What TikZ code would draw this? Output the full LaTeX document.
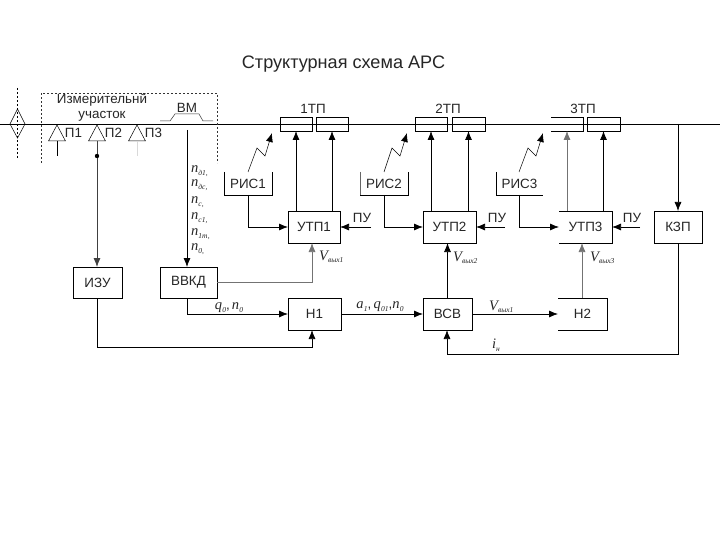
\documentclass[tikz,border=0pt]{standalone}
\usepackage{fontspec}
\setmainfont{Liberation Sans}
\newfontfamily\symfont{Liberation Serif}
\usetikzlibrary{arrows.meta}
\newcommand{\vv}[2]{{\symfont\itshape\fontsize{14.5}{14}\selectfont #1\kern0.2pt\raisebox{-2.5pt}{\fontsize{7.5}{7}\selectfont #2}}}
\tikzset{
 x=1pt,y=-1pt,
 every node/.style={font=\fontsize{13.4}{14}\selectfont,inner sep=0pt,outer sep=0pt,text=black!85},
 wire/.style={draw=black,line width=0.75pt},
 flow/.style={wire,-{Latex[length=9pt,width=7pt]}},
 paleflow/.style={flow,draw=black!55},
 blk/.style={draw=black,line width=0.75pt,minimum height=32pt,anchor=north west},
 openblk/.style={minimum height=32pt,anchor=north west},
 tp/.style={draw=black,line width=0.75pt,minimum width=32pt,minimum height=14pt,anchor=north west},
 lbl/.style={anchor=center},
}
\begin{document}
\begin{tikzpicture}
\useasboundingbox (0,0) rectangle (720,540);
\fill[white] (0,0) rectangle (720,540);
\node[font=\fontsize{18.1}{20}\selectfont] (title) at (343.5,64) {Структурная схема АРС};
% track
\coordinate (railL) at (0,124);
\coordinate (railR) at (720,124);
\draw[wire] (railL) -- (railR);
% diamond
\coordinate (dtop) at (17.5,88);
\coordinate (dbot) at (17.5,159);
\draw[black,line width=0.4pt,dash pattern=on 2pt off 2pt] (dtop) -- (dbot);
\draw[black,line width=0.5pt] (17.5,109) -- (25,124) -- (17.5,138) -- (10,124) -- cycle;
% measuring section
\draw[black!80,line width=0.5pt,dash pattern=on 2pt off 2pt] (41,163) -- (41,93) -- (217,93) -- (217,163);
\node[lbl] (meas1) at (102,100) {Измерительнй};
\node[lbl] (meas2) at (102,116) {участок};
\node[lbl] (vm) at (187,108) {ВМ};
\draw[black!80,line width=0.5pt] (160,121) -- (170,121) -- (175,114) -- (199,114) -- (203,121) -- (213,121);
% sensors
\foreach \n/\x in {1/57,2/97,3/137}{
  \coordinate (p\n) at (\x,141);
  \draw[black,line width=0.5pt] (\x,125) -- (\x+8.5,141) -- (\x-8.5,141) -- cycle;
  \node[lbl] (pl\n) at (\x+16.5,132.5) {П\n};
}
\coordinate (p1e) at (57,156);
\coordinate (p3e) at (137,156);
\coordinate (pdot) at (97,156);
\draw[wire] (p1) -- (p1e);
\draw[draw=black!15,line width=0.7pt] (p3) -- (p3e);
% blocks
\node[blk,minimum width=52pt] (utp1) at (288,211) {УТП1};
\node[blk,minimum width=53pt] (utp2) at (423,211) {УТП2};
\node[openblk,minimum width=53pt] (utp3) at (559,211) {УТП3};
\draw[black,line width=0.75pt] (559,211) -- (612,211) -- (612,243) -- (559,243);
\node[blk,minimum width=48pt] (kzp) at (654,211) {КЗП};
\node[blk,minimum width=49pt,minimum height=31pt] (izu) at (73,267) {ИЗУ};
\node[blk,minimum width=57pt,minimum height=31pt] (vvkd) at (160,267) {ВВКД};
\node[blk,minimum width=53pt] (n1) at (288,298) {Н1};
\node[blk,minimum width=49pt] (vsv) at (423,298) {ВСВ};
\node[openblk,minimum width=49pt] (n2) at (558,298) {Н2};
\draw[black,line width=0.75pt] (558,298) -- (607,298) -- (607,330) -- (558,330);
% radio units (open top)
\node[minimum width=48pt,minimum height=23pt,anchor=north west] (ris1) at (224,172) {РИС1};
\node[minimum width=48pt,minimum height=23pt,anchor=north west] (ris2) at (360,172) {РИС2};
\node[minimum width=47pt,minimum height=23pt,anchor=north west] (ris3) at (496,172) {РИС3};
\draw[wire] (ris1.north west) -- (ris1.south west) -- (ris1.south east) -- (ris1.north east);
\draw[draw=black!60,line width=0.7pt] (ris2.north west) -- (ris2.south west);
\draw[wire] (ris2.south west) -- (ris2.south east) -- (ris2.north east);
\draw[wire] (ris3.north west) -- (ris3.south west) -- (ris3.south east);
% traction units
\node[tp] (t1a) at (280,117) {};
\node[tp] (t1b) at (316,117) {};
\node[tp] (t2a) at (415,117) {};
\node[tp,minimum width=33pt] (t2b) at (452,117) {};
\node[minimum width=32pt,minimum height=14pt,anchor=north west] (t3a) at (551,117) {};
\draw[black,line width=0.75pt] (551,117) -- (583,117) -- (583,131) -- (551,131);
\node[tp,minimum width=33pt] (t3b) at (587,117) {};
\node[lbl] (l1) at (313,109) {1ТП};
\node[lbl] (l2) at (448,109) {2ТП};
\node[lbl] (l3) at (583,109) {3ТП};
% arrows from UTP to TP
\draw[flow] (utp1.north -| t1a.south) -- (t1a.south);
\draw[flow] (utp1.north -| t1b.south) -- (t1b.south);
\draw[flow] (utp2.north -| t2a.south) -- (t2a.south);
\draw[flow] (utp2.north -| t2b.south) -- (t2b.south);
\draw[paleflow] (utp3.north -| t3a.south) -- (t3a.south);
\draw[flow] (utp3.north -| t3b.south) -- (t3b.south);
% radio links
\coordinate (r1t) at (272,133); \coordinate (r2t) at (407,133); \coordinate (r3t) at (543,133);
\draw[flow,line width=0.5pt] (248,172) -- (257,148) -- (265,156) -- (r1t);
\draw[flow,line width=0.5pt] (384,172) -- (392,148) -- (400,156) -- (r2t);
\draw[flow,line width=0.5pt] (519,172) -- (528,148) -- (536,156) -- (r3t);
% RIS to UTP
\draw[flow] (ris1.south) |- (utp1.west);
\draw[flow] (ris2.south) |- (utp2.west);
\draw[flow] (ris3.south) |- (utp3.west);
% PU
\coordinate (pu1) at (371,227); \coordinate (pu2) at (505,227); \coordinate (pu3) at (640,227);
\draw[flow] (pu1) -- (utp1.east);
\draw[flow] (pu2) -- (utp2.east);
\draw[flow] (pu3) -- (utp3.east);
\node[lbl] (pul1) at (362,218) {ПУ};
\node[lbl] (pul2) at (497,218) {ПУ};
\node[lbl] (pul3) at (632,218) {ПУ};
% KZP
\coordinate (kzt) at (kzp.north |- railL);
\draw[flow] (kzt) -- (kzp.north);
\coordinate (kzb) at (kzp.south |- 0,354);
\draw[flow] (kzp.south) -- (kzb) -| (447,330);
% sensors to blocks
\draw[flow,draw=black!75] (p2) -- (97,267);
\fill (pdot) circle (2.2pt);
\coordinate (nst) at (187,130);
\draw[flow] (nst) -- (187,267);
\foreach \y/\a/\b in {171/n/д1,185/n/дс,202/n/с,218/n/с1,234/n/1т,249/n/0}
  \node[anchor=west] at (191,\y) {\vv{\a}{\b,}};
% lower connections
\draw[flow] (izu.south) |- (312,347) -- (312,330);
\draw[flow] (187,298) |- (n1.west);
\draw[paleflow] (vvkd.east) -| (312,243);
\draw[flow] (n1.east) -- (vsv.west);
\draw[flow] (vsv.north) -- (utp2.south -| vsv.north);
\draw[flow] (vsv.east) -- (n2.west);
\draw[paleflow] (582,298) -- (582,243);
% labels
\node[lbl] (lq) at (229,308) {\vv{q}{0},\,\vv{n}{0}};
\node[lbl] (la) at (380,307) {\vv{a}{1},\,\vv{q}{01},\vv{n}{0}};
\node[anchor=west] (lv1) at (319,257) {\vv{V}{вых1}};
\node[anchor=west] (lv2) at (453,258) {\vv{V}{вых2}};
\node[anchor=west] (lv3) at (590,258) {\vv{V}{вых3}};
\node[anchor=west] (lv4) at (489,307) {\vv{V}{вых1}};
\node[anchor=west] (li) at (492,345) {\vv{i}{н}};
\end{tikzpicture}
\end{document}
